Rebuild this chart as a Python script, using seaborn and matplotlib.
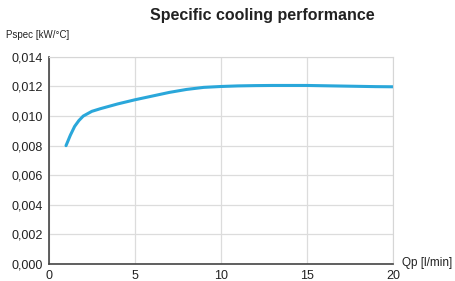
import matplotlib
matplotlib.use("Agg")
import matplotlib.pyplot as plt
import seaborn as sns
import pandas as pd
from matplotlib.ticker import FuncFormatter

qp = [1, 1.25, 1.5, 1.75, 2, 2.5, 3, 4, 5, 6, 7, 8, 9, 10, 11, 12, 13, 14, 15, 16, 17, 18, 19, 20]
pspec = [0.0080, 0.0087, 0.0093, 0.0097, 0.0100, 0.01032, 0.0105, 0.01082, 0.0111, 0.01135, 0.01160,
         0.01180, 0.01194, 0.0120, 0.01204, 0.01206, 0.01207, 0.01207, 0.01207, 0.01205, 0.01203,
         0.01201, 0.01199, 0.01198]
x_ticks = [0, 5, 10, 15, 20]
y_ticks = [0.000, 0.002, 0.004, 0.006, 0.008, 0.010, 0.012, 0.014]

df = pd.DataFrame({'Qp': qp, 'Pspec': pspec})

sns.set_style('white')
plt.rcParams['font.family'] = ['Liberation Sans', 'DejaVu Sans']

fig = plt.figure(figsize=(4.56, 2.81), dpi=100)
ax = fig.add_axes([0.107, 0.0605, 0.755, 0.737])
sns.lineplot(data=df, x='Qp', y='Pspec', ax=ax, color='#2aa7da', linewidth=2.2)

ax.set_xlim(0, 20)
ax.set_ylim(0, 0.014)
ax.set_xticks(x_ticks)
ax.set_yticks(y_ticks)
ax.yaxis.set_major_formatter(FuncFormatter(lambda v, p: f'{v:.3f}'.replace('.', ',')))
ax.grid(True, color='#dcdcdc', linewidth=0.9)
ax.set_axisbelow(True)
ax.set_xlabel('')
ax.set_ylabel('')
for s in ['top', 'right']:
    ax.spines[s].set_color('#d6d6d6')
for s in ['left', 'bottom']:
    ax.spines[s].set_color('#444444')
    ax.spines[s].set_linewidth(1.2)
ax.tick_params(axis='both', labelsize=9, colors='#222222', length=3, width=1, direction='inout')
ax.tick_params(axis='x', pad=3)
ax.tick_params(axis='y', pad=3)

fig.text(0.575, 0.945, 'Specific cooling performance', ha='center', va='center',
         fontsize=11.5, fontweight='bold', color='#222222')
fig.text(0.013, 0.875, 'Pspec [kW/°C]', ha='left', va='center', fontsize=7, color='#222222')
fig.text(0.882, 0.063, 'Qp [l/min]', ha='left', va='center', fontsize=8.5, color='#222222')

plt.savefig('out.png', dpi=100)
